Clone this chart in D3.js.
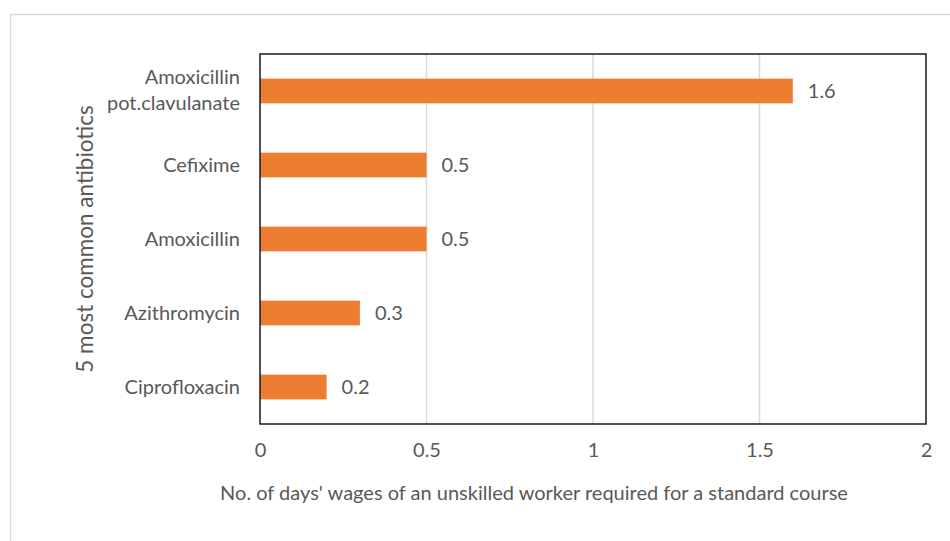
<!DOCTYPE html>
<html>
<head>
<meta charset="utf-8">
<script src="https://cdn.jsdelivr.net/npm/d3@7"></script>
<style>
  body { margin: 0; background: #fff; }
  text { font-family: Lato, "Open Sans", sans-serif; fill: #595959; }
</style>
</head>
<body>
<svg id="chart" width="950" height="541"></svg>
<script>
// ── Data ──
const drugs = ["Amoxicillin pot.clavulanate", "Cefixime", "Amoxicillin", "Azithromycin", "Ciprofloxacin"];
const days = [1.6, 0.5, 0.5, 0.3, 0.2];
const xTicks = [0, 0.5, 1, 1.5, 2];

const svg = d3.select("#chart");
const fs = "20px";

// outer chart border (extends past the window right/bottom)
svg.append("rect")
  .attr("x", 10.5).attr("y", 14.5)
  .attr("width", 960).attr("height", 560)
  .attr("fill", "none").attr("stroke", "#d9d9d9").attr("stroke-width", 1.5);

const plot = { left: 260, top: 54, right: 926, bottom: 424 };

const x = d3.scaleLinear().domain([0, 2]).range([plot.left, plot.right]);
const y = d3.scaleBand().domain(drugs).range([plot.top, plot.bottom]).paddingInner(0.666).paddingOuter(0.333);

// gridlines
svg.append("g")
  .selectAll("line")
  .data(xTicks.filter(t => t > 0 && t < 2))
  .join("line")
  .attr("x1", d => x(d)).attr("x2", d => x(d))
  .attr("y1", plot.top).attr("y2", plot.bottom)
  .attr("stroke", "#d9d9d9").attr("stroke-width", 1.5);

// bars
svg.append("g")
  .selectAll("rect")
  .data(drugs)
  .join("rect")
  .attr("x", x(0))
  .attr("y", d => y(d))
  .attr("width", (d, i) => x(days[i]) - x(0))
  .attr("height", y.bandwidth())
  .attr("fill", "#ed7d31");

// value labels
svg.append("g")
  .selectAll("text")
  .data(drugs)
  .join("text")
  .attr("x", (d, i) => x(days[i]) + 15)
  .attr("y", d => y(d) + y.bandwidth() / 2)
  .attr("dy", "0.35em")
  .style("font-size", fs)
  .text((d, i) => days[i]);

// plot area border
svg.append("rect")
  .attr("x", plot.left).attr("y", plot.top)
  .attr("width", plot.right - plot.left).attr("height", plot.bottom - plot.top)
  .attr("fill", "none").attr("stroke", "#1a1a1a").attr("stroke-width", 1.5);

// x tick labels
const xAxis = d3.axisBottom(x).tickValues(xTicks).tickSize(0).tickPadding(19).tickFormat(d3.format(""));
svg.append("g")
  .attr("transform", `translate(0,${plot.bottom})`)
  .call(xAxis)
  .call(g => g.select(".domain").remove())
  .call(g => g.selectAll("text").style("font-size", fs).attr("fill", "#595959")
    .style("font-family", "Lato, sans-serif"));

// y category labels
const yLab = svg.append("g")
  .selectAll("text")
  .data(drugs)
  .join("text")
  .attr("text-anchor", "end")
  .attr("x", 240)
  .attr("y", d => y(d) + y.bandwidth() / 2)
  .style("font-size", fs);

yLab.each(function(d) {
  const t = d3.select(this);
  if (d === "Amoxicillin pot.clavulanate") {
    t.append("tspan").attr("x", 240).attr("dy", "-0.35em").text("Amoxicillin");
    t.append("tspan").attr("x", 240).attr("dy", "1.3em").text("pot.clavulanate");
  } else {
    t.attr("dy", "0.35em").text(d);
  }
});

// axis titles
svg.append("text")
  .attr("x", (plot.left + plot.right) / 2 - 59)
  .attr("y", 500)
  .attr("text-anchor", "middle")
  .style("font-size", fs)
  .text("No. of days' wages of an unskilled worker required for a standard course");

svg.append("text")
  .attr("transform", `translate(93,${(plot.top + plot.bottom) / 2}) rotate(-90)`)
  .attr("text-anchor", "middle")
  .style("font-size", "22.5px")
  .text("5 most common antibiotics");
</script>
</body>
</html>
